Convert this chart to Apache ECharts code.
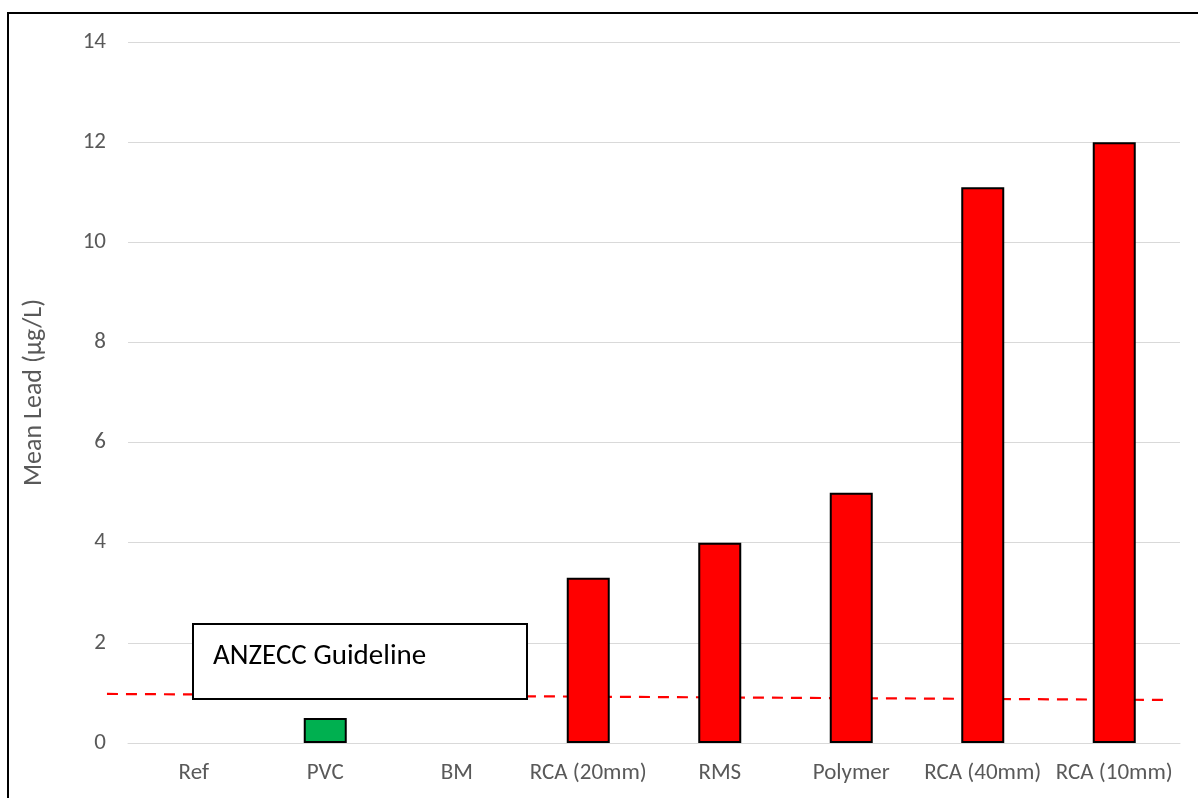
<!DOCTYPE html>
<html><head><meta charset="utf-8">
<script src="https://cdn.jsdelivr.net/npm/echarts@6/dist/echarts.min.js"></script>
<style>html,body{margin:0;padding:0;background:#fff}#c{width:1198px;height:798px}</style>
</head><body><div id="c"></div>
<script>
const categories = ['Ref','PVC','BM','RCA (20mm)','RMS','Polymer','RCA (40mm)','RCA (10mm)'];
const meanLead = [0, 0.5, 0, 3.3, 4.0, 5.0, 11.1, 12.0];
const guidelineX = [-0.16, 7.89];   // in category-band units
const guidelineY = [0.98, 0.86];
const yTicks = [0, 2, 4, 6, 8, 10, 12, 14];

const FONT = 'Carlito, Lato, "Open Sans", sans-serif';
const W = 1198, GL = 128, GR = 18, GT = 42, GB = 55;
const band = (W - GL - GR) / categories.length;
const chart = echarts.init(document.getElementById('c'));
const barData = meanLead.map(v => ({
  value: v,
  itemStyle: {
    color: v < 1 ? '#00b050' : '#ff0000',
    borderWidth: v === 0 ? 0 : 2
  }
}));
chart.setOption({
  animation: false,
  grid: [
    { left: GL, right: GR, top: GT, bottom: GB },
    { left: GL + guidelineX[0] * band, right: W - (GL + guidelineX[1] * band), top: GT, bottom: GB }
  ],
  xAxis: [{
    type: 'category', data: categories, gridIndex: 0,
    axisLine: { lineStyle: { color: '#d9d9d9', width: 1 } },
    axisTick: { show: false },
    axisLabel: { color: '#595959', fontSize: 23, fontFamily: FONT, margin: 19, interval: 0 }
  }, {
    type: 'value', gridIndex: 1, min: guidelineX[0], max: guidelineX[1], show: false
  }],
  yAxis: [{
    type: 'value', gridIndex: 0, min: yTicks[0], max: yTicks[yTicks.length - 1], interval: 2,
    name: 'Mean Lead (µg/L)', nameLocation: 'middle', nameGap: 81,
    nameTextStyle: { color: '#595959', fontSize: 26, fontFamily: FONT },
    axisLine: { show: false }, axisTick: { show: false },
    axisLabel: { color: '#595959', fontSize: 23, fontFamily: FONT, margin: 22 },
    splitLine: { lineStyle: { color: '#d9d9d9', width: 1 } }
  }, {
    type: 'value', gridIndex: 1, min: yTicks[0], max: yTicks[yTicks.length - 1], show: false
  }],
  series: [{
    type: 'line', xAxisIndex: 1, yAxisIndex: 1, z: 1, clip: false, symbol: 'none',
    data: guidelineX.map((x, i) => [x, guidelineY[i]]),
    lineStyle: { color: '#ff0000', width: 2.2, type: [11, 8] }
  }, {
    type: 'bar', z: 3, barWidth: 43,
    data: barData,
    itemStyle: { borderColor: '#000' }
  }],
  graphic: [{
    type: 'rect', z: 100, zlevel: 1,
    shape: { x: 8, y: 13, width: 1400, height: 1000 },
    style: { fill: 'none', stroke: '#000', lineWidth: 2 }
  }, {
    type: 'rect', z: 100, zlevel: 1,
    shape: { x: 193, y: 624, width: 334, height: 75 },
    style: { fill: '#fff', stroke: '#000', lineWidth: 2 }
  }, {
    type: 'text', z: 101, zlevel: 1, x: 213, y: 657,
    style: { text: 'ANZECC Guideline', fill: '#000', fontSize: 29, fontFamily: FONT, verticalAlign: 'middle' }
  }]
});
</script></body></html>
